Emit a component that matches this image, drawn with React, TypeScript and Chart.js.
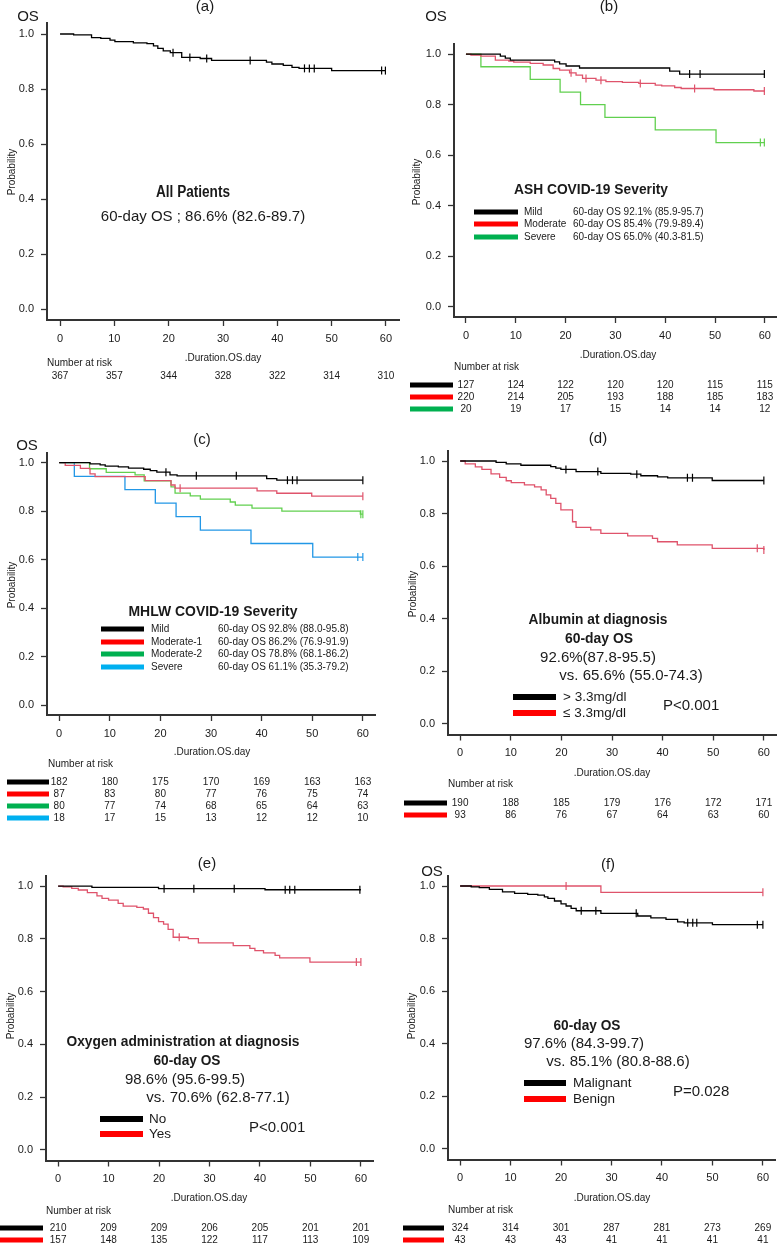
import React, { useEffect, useRef } from "react";
import { Chart, registerables } from "chart.js";
Chart.register(...registerables);

const W = 782, H = 1244, YW = 40, XH = 30;
const FONT = '"Liberation Sans", Arial, Helvetica, sans-serif';
const INK = "#1a1a1a";
const AXIS = "#333333";

const xTicks = [0, 10, 20, 30, 40, 50, 60];
const yTicks = [0, 0.2, 0.4, 0.6, 0.8, 1.0];
const xLabel = ".Duration.OS.day";

// curve colours (R palette) and legend-bar colours
const CK = "#000000", CR = "#DF536B", CG = "#61D04F", CB = "#2297E6";
const LK = "#000000", LR = "#FF0000", LG = "#00B050", LB = "#00B0F0";

// ---------- (a) All patients ----------
const aAllT = [0, 2.5, 5.8, 7.5, 9.2, 10.1, 13.5, 16, 17.2, 18, 19, 20.3, 22.4, 25.8, 27.9, 38, 39, 41.1, 42.7, 44, 50, 60];
const aAllS = [1.0, 0.997, 0.987, 0.984, 0.978, 0.972, 0.968, 0.965, 0.957, 0.948, 0.939, 0.932, 0.915, 0.911, 0.904, 0.898, 0.891, 0.886, 0.879, 0.875, 0.867, 0.867];
const aAllC = [20.8, 23.9, 27, 35, 45, 45.9, 46.8, 59.2, 59.9];
const aRisk = [367, 357, 344, 328, 322, 314, 310];

// ---------- (b) ASH severity ----------
const bMildT = [0, 6.9, 7.9, 8.9, 17.8, 18.8, 20.1, 22.8, 40.9, 42.9, 60];
const bMildS = [1, 0.992, 0.984, 0.976, 0.969, 0.961, 0.953, 0.945, 0.933, 0.921, 0.921];
const bMildC = [44.9, 47, 59.9];
const bModT = [0, 1.0, 3.0, 5.9, 8.6, 9.6, 12.9, 15.5, 17.5, 18.8, 20.8, 22.1, 23.4, 26.1, 28.1, 31.4, 34.7, 38, 39.3, 41.9, 43.2, 49.8, 57.8, 60];
const bModS = [1, 0.996, 0.992, 0.976, 0.972, 0.968, 0.963, 0.957, 0.943, 0.937, 0.926, 0.917, 0.904, 0.897, 0.891, 0.888, 0.884, 0.877, 0.874, 0.868, 0.864, 0.859, 0.854, 0.854];
const bModC = [21.1, 24.1, 27.1, 35, 45.9, 59.9];
const bSevT = [0, 3.0, 12.9, 18.9, 23, 27.9, 38, 50.2, 60];
const bSevS = [1, 0.95, 0.9, 0.85, 0.8, 0.75, 0.7, 0.65, 0.65];
const bSevC = [59.1, 59.9];
const bGroups = ["Mild", "Moderate", "Severe"];
const bOs = ["60-day OS 92.1% (85.9-95.7)", "60-day OS 85.4% (79.9-89.4)", "60-day OS 65.0% (40.3-81.5)"];
const bRiskMild = [127, 124, 122, 120, 120, 115, 115];
const bRiskMod = [220, 214, 205, 193, 188, 185, 183];
const bRiskSev = [20, 19, 17, 15, 14, 14, 12];

// ---------- (c) MHLW severity ----------
const cMildT = [0, 6.1, 8.1, 9.1, 11.7, 13.7, 16.7, 18, 19.3, 21.9, 23.3, 41, 43, 60];
const cMildS = [1, 0.995, 0.991, 0.986, 0.983, 0.978, 0.973, 0.967, 0.961, 0.95, 0.946, 0.934, 0.928, 0.928];
const cMildC = [21.1, 27.1, 35, 45.1, 46.1, 47, 60];
const cM1T = [0, 1.2, 4.2, 6.1, 7.1, 17, 22.1, 22.9, 39.1, 43, 49.9, 60];
const cM1S = [1, 0.989, 0.977, 0.954, 0.943, 0.926, 0.908, 0.895, 0.884, 0.874, 0.862, 0.862];
const cM1C = [23.9, 60];
const cM2T = [0, 6.0, 9.3, 15, 16.8, 22.1, 22.9, 25.9, 27.9, 33.8, 34.8, 38.1, 44, 59.5, 60];
const cM2S = [1, 0.975, 0.96, 0.95, 0.925, 0.9, 0.875, 0.863, 0.85, 0.838, 0.825, 0.813, 0.8, 0.788, 0.788];
const cM2C = [59.6, 60];
const cSevT = [0, 3.0, 13, 19, 23.1, 27.9, 37.9, 50.1, 60];
const cSevS = [1, 0.944, 0.889, 0.833, 0.778, 0.722, 0.667, 0.611, 0.611];
const cSevC = [59, 60];
const cGroups = ["Mild", "Moderate-1", "Moderate-2", "Severe"];
const cOs = ["60-day OS 92.8% (88.0-95.8)", "60-day OS 86.2% (76.9-91.9)", "60-day OS 78.8% (68.1-86.2)", "60-day OS 61.1% (35.3-79.2)"];
const cRiskMild = [182, 180, 175, 170, 169, 163, 163];
const cRiskM1 = [87, 83, 80, 77, 76, 75, 74];
const cRiskM2 = [80, 77, 74, 68, 65, 64, 63];
const cRiskSev = [18, 17, 15, 13, 12, 12, 10];

// ---------- (d) Albumin ----------
const dHiT = [0, 7.1, 9.1, 12, 17.9, 18.9, 19.9, 22.9, 27.8, 33.7, 35.7, 39, 41, 49.8, 60];
const dHiS = [1, 0.995, 0.989, 0.984, 0.979, 0.973, 0.968, 0.96, 0.953, 0.95, 0.944, 0.94, 0.936, 0.926, 0.926];
const dHiC = [20.9, 27.2, 34.9, 44.9, 45.9, 60];
const dLoT = [0, 1.0, 3.0, 4.3, 6.1, 7.8, 9.1, 10.1, 12.7, 14.7, 16, 17, 17.9, 18.9, 19.9, 22.2, 22.9, 25.8, 27.8, 33.1, 38, 39, 42.9, 49.8, 60];
const dLoS = [1, 0.989, 0.978, 0.968, 0.951, 0.938, 0.925, 0.918, 0.909, 0.902, 0.89, 0.871, 0.858, 0.839, 0.814, 0.769, 0.748, 0.738, 0.725, 0.715, 0.706, 0.693, 0.681, 0.668, 0.662];
const dLoC = [58.7, 60];
const dRiskHi = [190, 188, 185, 179, 176, 172, 171];
const dRiskLo = [93, 86, 76, 67, 64, 63, 60];

// ---------- (e) Oxygen ----------
const eNoT = [0, 6.7, 19.9, 41, 60];
const eNoS = [1, 0.995, 0.99, 0.986, 0.986];
const eNoC = [21, 26.9, 34.9, 45, 45.9, 46.9, 59.8];
const eYesT = [0, 1.0, 2.7, 4.0, 5.8, 7.7, 8.7, 10, 11.9, 12.9, 15.6, 16.9, 17.9, 18.9, 19.9, 20.9, 21.8, 22.8, 25.8, 27.8, 34.7, 38, 39, 40.7, 43, 43.9, 49.9, 60];
const eYesS = [1, 0.997, 0.991, 0.985, 0.975, 0.963, 0.953, 0.947, 0.934, 0.924, 0.919, 0.913, 0.897, 0.88, 0.865, 0.856, 0.836, 0.806, 0.801, 0.785, 0.774, 0.764, 0.755, 0.747, 0.737, 0.728, 0.712, 0.712];
const eYesC = [24, 59.1, 60];
const eRiskNo = [210, 209, 209, 206, 205, 201, 201];
const eRiskYes = [157, 148, 135, 122, 117, 113, 109];

// ---------- (f) Malignant / benign ----------
const fMalT = [0, 2.2, 3.8, 5.8, 8.4, 10.8, 13.4, 15.4, 16.7, 17.4, 18.7, 20, 21, 22, 23, 27.9, 35.2, 37.8, 40.8, 43.1, 44.4, 50, 60];
const fMalS = [1, 0.997, 0.994, 0.987, 0.978, 0.972, 0.968, 0.965, 0.959, 0.953, 0.943, 0.932, 0.924, 0.915, 0.906, 0.896, 0.886, 0.879, 0.873, 0.864, 0.86, 0.853, 0.853];
const fMalC = [24, 26.9, 34.9, 45.1, 46.1, 46.9, 58.9, 60];
const fBenT = [0, 27.9, 60];
const fBenS = [1, 0.976, 0.976];
const fBenC = [21, 60];
const fRiskMal = [324, 314, 301, 287, 281, 273, 269];
const fRiskBen = [43, 43, 43, 41, 41, 41, 41];

type Curve = { t: number[]; s: number[]; c: number[]; color: string };
type Txt = { text: string; x: number; y: number; size: number; bold?: boolean; left?: boolean; maxW?: number; rot?: boolean };
type Bar = { x0: number; x1: number; y: number; h: number; color: string };
type Panel = { area: [number, number, number, number]; curves: Curve[]; texts: Txt[]; bars: Bar[]; risk: number[][]; riskY: number[] };

function survAt(t: number[], s: number[], at: number) {
  let v = s[0];
  for (let i = 0; i < t.length; i++) if (t[i] <= at) v = s[i];
  return v;
}

const t = (text: string, x: number, y: number, size: number, extra: Partial<Txt> = {}): Txt => ({ text, x, y, size, ...extra });
const bars = (x0: number, x1: number, ys: number[], h: number, colors: string[]): Bar[] => ys.map((y, i) => ({ x0, x1, y, h, color: colors[i] }));

const panels: Panel[] = [
  {
    area: [47, 23, 399, 320],
    curves: [{ t: aAllT, s: aAllS, c: aAllC, color: CK }],
    texts: [
      t("(a)", 205, 7, 15), t("OS", 28, 17, 15), t("Probability", 12, 172, 10, { rot: true }),
      t("All Patients", 193, 193, 16, { bold: true, maxW: 74 }),
      t("60-day OS ; 86.6% (82.6-89.7)", 203, 217, 15, { maxW: 207 }),
      t(xLabel, 223, 358, 10), t("Number at risk", 47, 363, 10, { left: true }),
    ],
    bars: [],
    risk: [aRisk], riskY: [376],
  },
  {
    area: [454, 44, 781, 317],
    curves: [
      { t: bMildT, s: bMildS, c: bMildC, color: CK },
      { t: bModT, s: bModS, c: bModC, color: CR },
      { t: bSevT, s: bSevS, c: bSevC, color: CG },
    ],
    texts: [
      t("(b)", 609, 7, 15), t("OS", 436, 17, 15), t("Probability", 417, 182, 10, { rot: true }),
      t("ASH COVID-19 Severity", 591, 190, 15, { bold: true, maxW: 154 }),
      ...bGroups.map((g, i) => t(g, 524, [212, 224, 237][i], 10, { left: true })),
      ...bOs.map((g, i) => t(g, 573, [212, 224, 237][i], 10, { left: true })),
      t(xLabel, 618, 355, 10), t("Number at risk", 454, 367, 10, { left: true }),
    ],
    bars: [...bars(474, 518, [212, 224, 237], 5, [LK, LR, LG]), ...bars(410, 453, [385, 397, 409], 5, [LK, LR, LG])],
    risk: [bRiskMild, bRiskMod, bRiskSev], riskY: [385, 397, 409],
  },
  {
    area: [47, 453, 375, 715],
    curves: [
      { t: cMildT, s: cMildS, c: cMildC, color: CK },
      { t: cM1T, s: cM1S, c: cM1C, color: CR },
      { t: cM2T, s: cM2S, c: cM2C, color: CG },
      { t: cSevT, s: cSevS, c: cSevC, color: CB },
    ],
    texts: [
      t("(c)", 202, 440, 15), t("OS", 27, 446, 15), t("Probability", 12, 585, 10, { rot: true }),
      t("MHLW COVID-19 Severity", 213, 612, 15, { bold: true, maxW: 169 }),
      ...cGroups.map((g, i) => t(g, 151, [629, 642, 654, 667][i], 10, { left: true })),
      ...cOs.map((g, i) => t(g, 218, [629, 642, 654, 667][i], 10, { left: true })),
      t(xLabel, 212, 752, 10), t("Number at risk", 48, 764, 10, { left: true }),
    ],
    bars: [...bars(101, 144, [629, 642, 654, 667], 5, [LK, LR, LG, LB]), ...bars(7, 49, [782, 794, 806, 818], 5, [LK, LR, LG, LB])],
    risk: [cRiskMild, cRiskM1, cRiskM2, cRiskSev], riskY: [782, 794, 806, 818],
  },
  {
    area: [448, 450.5, 776, 734.5],
    curves: [
      { t: dHiT, s: dHiS, c: dHiC, color: CK },
      { t: dLoT, s: dLoS, c: dLoC, color: CR },
    ],
    texts: [
      t("(d)", 598, 439, 15), t("Probability", 413, 594, 10, { rot: true }),
      t("Albumin at diagnosis", 598, 620, 15, { bold: true, maxW: 139 }),
      t("60-day OS", 599, 639, 15, { bold: true, maxW: 68 }),
      t("92.6%(87.8-95.5)", 598, 658, 15), t("vs. 65.6% (55.0-74.3)", 631, 676, 15),
      t("> 3.3mg/dl", 563, 697, 13.5, { left: true }), t("≤ 3.3mg/dl", 563, 713, 13.5, { left: true }),
      t("P<0.001", 663, 706, 15, { left: true }),
      t(xLabel, 612, 773, 10), t("Number at risk", 448, 784, 10, { left: true }),
    ],
    bars: [...bars(513, 556, [697, 713], 6, [LK, LR]), ...bars(404, 447, [803, 815], 5, [LK, LR])],
    risk: [dRiskHi, dRiskLo], riskY: [803, 815],
  },
  {
    area: [46, 875.5, 373, 1160.5],
    curves: [
      { t: eNoT, s: eNoS, c: eNoC, color: CK },
      { t: eYesT, s: eYesS, c: eYesC, color: CR },
    ],
    texts: [
      t("(e)", 207, 864, 15), t("Probability", 11, 1016, 10, { rot: true }),
      t("Oxygen administration at diagnosis", 183, 1042, 15, { bold: true, maxW: 233 }),
      t("60-day OS", 187, 1061, 15, { bold: true, maxW: 67 }),
      t("98.6% (95.6-99.5)", 185, 1080, 15), t("vs. 70.6% (62.8-77.1)", 218, 1098, 15),
      t("No", 149, 1119, 13.5, { left: true }), t("Yes", 149, 1134, 13.5, { left: true }),
      t("P<0.001", 249, 1128, 15, { left: true }),
      t(xLabel, 209, 1198, 10), t("Number at risk", 46, 1211, 10, { left: true }),
    ],
    bars: [...bars(100, 143, [1119, 1134], 6, [LK, LR]), ...bars(0, 43, [1228, 1240], 5, [LK, LR])],
    risk: [eRiskNo, eRiskYes], riskY: [1228, 1240],
  },
  {
    area: [448, 875.5, 775, 1159.5],
    curves: [
      { t: fMalT, s: fMalS, c: fMalC, color: CK },
      { t: fBenT, s: fBenS, c: fBenC, color: CR },
    ],
    texts: [
      t("(f)", 608, 865, 15), t("OS", 432, 872, 15), t("Probability", 412, 1016, 10, { rot: true }),
      t("60-day OS", 587, 1026, 15, { bold: true, maxW: 67 }),
      t("97.6% (84.3-99.7)", 584, 1044, 15), t("vs. 85.1% (80.8-88.6)", 618, 1062, 15),
      t("Malignant", 573, 1083, 13.5, { left: true }), t("Benign", 573, 1099, 13.5, { left: true }),
      t("P=0.028", 673, 1092, 15, { left: true }),
      t(xLabel, 612, 1198, 10), t("Number at risk", 448, 1210, 10, { left: true }),
    ],
    bars: [...bars(524, 566, [1083, 1099], 6, [LK, LR]), ...bars(403, 444, [1228, 1240], 5, [LK, LR])],
    risk: [fRiskMal, fRiskBen], riskY: [1228, 1240],
  },
];

function drawTxt(ctx: CanvasRenderingContext2D, x: Txt) {
  ctx.save();
  ctx.font = `${x.bold ? "bold " : ""}${x.size}px ${FONT}`;
  ctx.fillStyle = INK;
  ctx.textAlign = x.left ? "left" : "center";
  ctx.textBaseline = "middle";
  if (x.rot) {
    ctx.translate(x.x, x.y);
    ctx.rotate(-Math.PI / 2);
    ctx.fillText(x.text, 0, 0);
  } else if (x.maxW) {
    ctx.fillText(x.text, x.x, x.y, x.maxW);
  } else {
    ctx.fillText(x.text, x.x, x.y);
  }
  ctx.restore();
}

function PanelChart({ p }: { p: Panel }) {
  const ref = useRef<HTMLCanvasElement>(null);
  useEffect(() => {
    const cv = ref.current;
    if (!cv) return;
    const [L, T, R, B] = p.area;
    const datasets: any[] = [];
    p.curves.forEach((c) => {
      datasets.push({
        data: c.t.map((tt, i) => ({ x: tt, y: c.s[i] })),
        borderColor: c.color, borderWidth: 1.3, pointRadius: 0, stepped: "before", fill: false,
      });
      datasets.push({
        data: c.c.map((tt) => ({ x: tt, y: survAt(c.t, c.s, tt) })),
        showLine: false, pointStyle: "line", pointRotation: 90, pointRadius: 4,
        pointBorderColor: c.color, pointBackgroundColor: c.color, pointBorderWidth: 1.2, borderColor: c.color,
      });
    });
    const decor = {
      id: "decor",
      afterDraw(chart: any) {
        const ctx: CanvasRenderingContext2D = chart.ctx;
        p.texts.forEach((x) => drawTxt(ctx, x));
        p.bars.forEach((b) => {
          ctx.fillStyle = b.color;
          ctx.fillRect(b.x0, b.y - b.h / 2, b.x1 - b.x0, b.h);
        });
        const xs = chart.scales.x;
        ctx.save();
        ctx.font = `10px ${FONT}`;
        ctx.fillStyle = INK;
        ctx.textAlign = "center";
        ctx.textBaseline = "middle";
        p.risk.forEach((row, i) => {
          row.forEach((v, j) => ctx.fillText(String(v), xs.getPixelForValue(xTicks[j]), p.riskY[i]));
        });
        ctx.restore();
      },
    };
    const axisCommon = {
      type: "linear",
      grid: { display: true, drawOnChartArea: false, drawTicks: true, tickLength: 6, tickColor: AXIS, tickWidth: 1.3, color: AXIS },
      border: { display: true, color: AXIS, width: 2 },
    };
    const chart = new Chart(cv, {
      type: "line",
      data: { datasets },
      options: {
        responsive: false,
        animation: false,
        events: [],
        layout: { padding: { left: L - YW, right: W - R, top: T, bottom: H - B - XH } },
        plugins: { legend: { display: false }, tooltip: { enabled: false }, title: { display: false } },
        scales: {
          x: {
            ...axisCommon,
            min: -2.4, max: 62.4,
            afterBuildTicks: (ax: any) => { ax.ticks = xTicks.map((v) => ({ value: v })); },
            afterFit: (ax: any) => { ax.height = XH; },
            ticks: { autoSkip: false, maxRotation: 0, padding: 6, color: INK, font: { family: FONT, size: 11 }, callback: (v: any) => String(v) },
          },
          y: {
            ...axisCommon,
            min: -0.04, max: 1.04,
            afterBuildTicks: (ax: any) => { ax.ticks = yTicks.map((v) => ({ value: v })); },
            afterFit: (ax: any) => { ax.width = YW; },
            ticks: { autoSkip: false, padding: 7, color: INK, font: { family: FONT, size: 11 }, callback: (v: any) => Number(v).toFixed(1) },
          },
        },
      } as any,
      plugins: [decor],
    } as any);
    return () => chart.destroy();
  }, [p]);
  return <canvas ref={ref} width={W} height={H} style={{ position: "absolute", left: 0, top: 0, width: W, height: H }} />;
}

export default function App() {
  return (
    <div style={{ position: "absolute", left: 0, top: 0, width: W, height: H, background: "#fff", overflow: "hidden" }}>
      {panels.map((p, i) => (
        <PanelChart key={i} p={p} />
      ))}
    </div>
  );
}
